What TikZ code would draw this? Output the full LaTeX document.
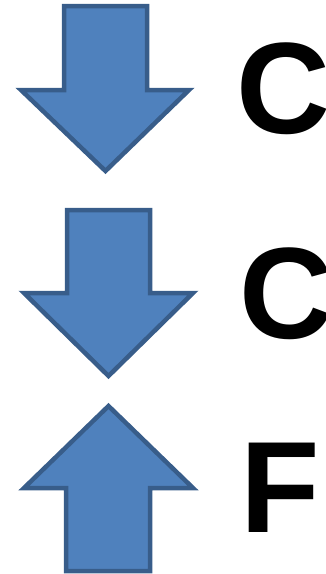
\documentclass[tikz,border=0pt]{standalone}
\usepackage{fontspec}
\setmainfont{Liberation Sans}
\begin{document}
\begin{tikzpicture}[
  x=1pt, y=-1pt,
  blockarrow/.style={draw=arrowline, fill=arrowfill, line width=4.5pt, line join=miter},
  letter/.style={anchor=base west, inner sep=0pt, font=\fontsize{130}{130}\selectfont\bfseries}
]
  \definecolor{arrowfill}{HTML}{4F81BD}
  \definecolor{arrowline}{HTML}{385D8A}
  \useasboundingbox (0,0) rectangle (325,574);

  % down arrows
  \draw[blockarrow] (64,6) -- (147,6) -- (147,90) -- (189,90) -- (105.5,171)
    -- (21,90) -- (64,90) -- cycle;
  \draw[blockarrow] (67,210) -- (150,210) -- (150,293) -- (193,293) -- (108.5,376)
    -- (24,293) -- (67,293) -- cycle;
  % up arrow
  \draw[blockarrow] (66,571) -- (150,571) -- (150,488) -- (193,488) -- (108.5,406)
    -- (24,488) -- (66,488) -- cycle;

  \node[letter] (c1) at (236,133) {C};
  \node[letter] (c2) at (239,338) {C};
  \node[letter] (f)  at (240,532) {F};
\end{tikzpicture}
\end{document}
